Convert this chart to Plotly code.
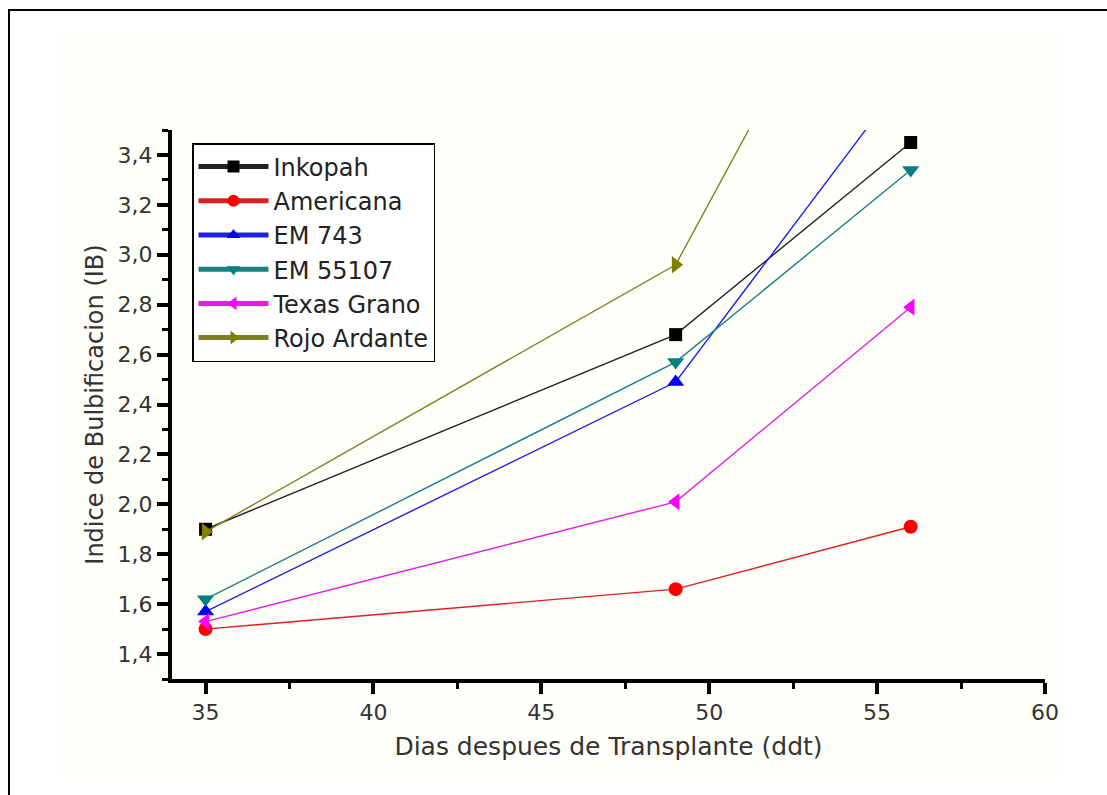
import plotly.graph_objects as go

days = [35, 49, 56]
series_names = ["Inkopah", "Americana", "EM 743", "EM 55107", "Texas Grano", "Rojo Ardante"]
inkopah = [1.90, 2.68, 3.45]
americana = [1.50, 1.66, 1.91]
em743 = [1.57, 2.49, 3.74]
em55107 = [1.62, 2.57, 3.34]
texas_grano = [1.53, 2.01, 2.79]
rojo_ardante = [1.89, 2.96, 4.70]

values = [inkopah, americana, em743, em55107, texas_grano, rojo_ardante]
colors = ["#000000", "#ff0000", "#0000ff", "#008080", "#ff00ff", "#808000"]
line_colors = ["#222222", "#e02020", "#2020e0", "#1a8080", "#e020e0", "#808020"]
symbols = ["square", "circle", "triangle-up", "triangle-down", "triangle-left", "triangle-right"]
marker_sizes = [13, 14, 15, 15, 15, 15]

W, H = 1107, 795
L, R, T, B = 172, 62, 130, 116
pw, ph = W - L - R, H - T - B

def px(x):
    return (x - L) / pw

def py(y):
    return (H - B - y) / ph

fig = go.Figure()
for name, vals, c, lc, s, ms in zip(series_names, values, colors, line_colors, symbols, marker_sizes):
    fig.add_trace(go.Scatter(
        x=days, y=vals, name=name, mode="lines+markers",
        line=dict(color=lc, width=1.4),
        marker=dict(symbol=s, size=ms, color=c),
        cliponaxis=True,
    ))

font_family = "DejaVu Sans, Liberation Sans, Arial, sans-serif"

fig.update_layout(
    width=W, height=H,
    margin=dict(l=L, r=R, t=T, b=B),
    paper_bgcolor="white",
    plot_bgcolor="rgba(0,0,0,0)",
    separators=",.",
    font=dict(family=font_family, color="#333333"),
    showlegend=True,
    legend=dict(
        x=px(192), y=py(143), xanchor="left", yanchor="top",
        bgcolor="white", bordercolor="black", borderwidth=1.5,
        font=dict(size=24, color="#222222", family=font_family),
        itemwidth=70,
        itemsizing="constant",
    ),
    xaxis=dict(
        range=[34, 60], tick0=35, dtick=5,
        showline=True, linecolor="black", linewidth=4,
        ticks="outside", ticklen=11, tickwidth=4, tickcolor="black",
        minor=dict(dtick=2.5, tick0=35, ticks="outside", ticklen=6, tickwidth=3, tickcolor="black"),
        showgrid=False, zeroline=False,
        tickfont=dict(size=22, color="#333333"),
        title=dict(text="Dias despues de Transplante (ddt)", font=dict(size=25, color="#333333"), standoff=14),
    ),
    yaxis=dict(
        range=[1.3, 3.5], tick0=1.4, dtick=0.2, tickformat=".1f",
        showline=True, linecolor="black", linewidth=4,
        ticks="outside", ticklen=11, tickwidth=4, tickcolor="black",
        minor=dict(dtick=0.1, tick0=1.3, ticks="outside", ticklen=6, tickwidth=3, tickcolor="black"),
        showgrid=False, zeroline=False,
        tickfont=dict(size=22, color="#333333"),
        title=dict(text="Indice de Bulbificacion (IB)", font=dict(size=24, color="#333333"), standoff=8),
    ),
    shapes=[
        dict(type="rect", xref="paper", yref="paper", layer="below",
             x0=px(60), x1=px(1062), y0=py(775), y1=py(32),
             fillcolor="#fffffa", line=dict(width=0)),
        dict(type="rect", xref="paper", yref="paper", layer="below",
             x0=px(9), x1=px(1120), y0=py(810), y1=py(10),
             fillcolor="rgba(0,0,0,0)", line=dict(color="black", width=2)),
    ],
)

fig.write_html("out.html")
